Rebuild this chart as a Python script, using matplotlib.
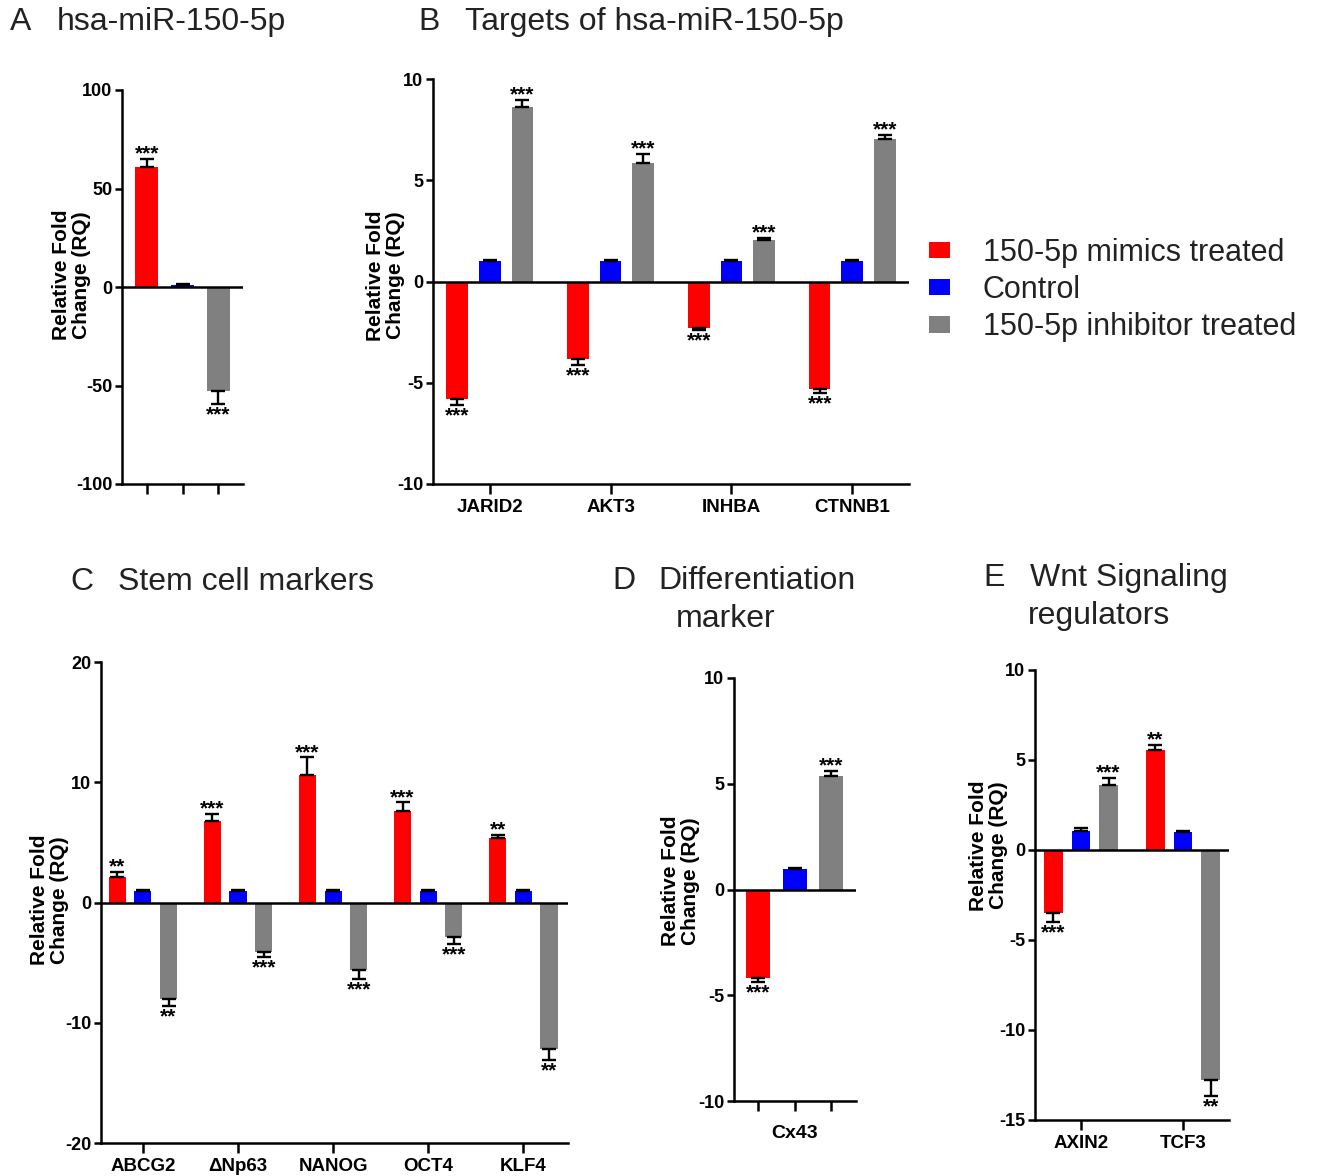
import numpy as np
import matplotlib
matplotlib.use("Agg")
import matplotlib.pyplot as plt
from matplotlib.patches import Patch

plt.rcParams['font.family'] = ['Liberation Sans', 'DejaVu Sans']
plt.rcParams['axes.unicode_minus'] = False

# ---------------- data ----------------
series_names = ['150-5p mimics treated', 'Control', '150-5p inhibitor treated']
series_colors = ['#FF0000', '#0000FF', '#808080']

# Panel A
A_cats = ['hsa-miR-150-5p']
A_mimic = [61.1]
A_ctrl = [1.0]
A_inhib = [-53.0]
A_mimic_err = [4.0]
A_ctrl_err = [0.4]
A_inhib_err = [6.4]
A_mimic_sig = ['***']
A_inhib_sig = ['***']

# Panel B
B_cats = ['JARID2', 'AKT3', 'INHBA', 'CTNNB1']
B_mimic = [-5.78, -3.84, -2.30, -5.32]
B_ctrl = [1.02, 1.02, 1.00, 1.00]
B_inhib = [8.62, 5.85, 2.07, 7.03]
B_mimic_err = [0.32, 0.26, 0.11, 0.21]
B_ctrl_err = [0.05, 0.06, 0.04, 0.05]
B_inhib_err = [0.35, 0.44, 0.07, 0.21]
B_mimic_sig = ['***', '***', '***', '***']
B_inhib_sig = ['***', '***', '***', '***']

# Panel C
C_cats = ['ABCG2', '\u0394Np63', 'NANOG', 'OCT4', 'KLF4']
C_mimic = [2.13, 6.76, 10.57, 7.59, 5.40]
C_ctrl = [0.97, 0.97, 0.97, 0.97, 0.97]
C_inhib = [-8.04, -4.12, -5.60, -2.84, -12.19]
C_mimic_err = [0.40, 0.60, 1.50, 0.73, 0.25]
C_ctrl_err = [0.08, 0.08, 0.08, 0.08, 0.08]
C_inhib_err = [0.56, 0.43, 0.73, 0.60, 0.91]
C_mimic_sig = ['**', '***', '***', '***', '**']
C_inhib_sig = ['**', '***', '***', '***', '**']

# Panel D
D_cats = ['Cx43']
D_mimic = [-4.17]
D_ctrl = [0.99]
D_inhib = [5.35]
D_mimic_err = [0.19]
D_ctrl_err = [0.05]
D_inhib_err = [0.25]
D_mimic_sig = ['***']
D_inhib_sig = ['***']

# Panel E
E_cats = ['AXIN2', 'TCF3']
E_mimic = [-3.48, 5.56]
E_ctrl = [1.04, 0.98]
E_inhib = [3.59, -12.80]
E_mimic_err = [0.50, 0.27]
E_ctrl_err = [0.16, 0.07]
E_inhib_err = [0.43, 0.87]
E_mimic_sig = ['***', '**']
E_inhib_sig = ['***', '**']

# ---------------- figure ----------------
W, H = 1318, 1176
fig = plt.figure(figsize=(W / 100, H / 100), dpi=100)


def ax_at(left, top, right, bottom):
    return fig.add_axes([left / W, 1 - bottom / H, (right - left) / W, (bottom - top) / H])


LW = 1.8
TXT = '#222222'


def draw_panel(ax, cats, vals, errs, sigs, grouped, ylim, yticks, xlim, xlabels, xlabel=None,
               ylabel_pos=(-0.3, 0.5)):
    n = len(cats)
    if grouped:
        base = np.arange(n)
        offsets = [-0.27, 0.0, 0.27]
        width = 0.18
    else:
        base = np.zeros(n)
        offsets = [0.0, 1.0, 2.0]
        width = 0.65
    tickpos = []
    for s in range(3):
        x = base + offsets[s]
        v = np.array(vals[s], dtype=float)
        e = np.array(errs[s], dtype=float)
        ax.bar(x, v, width=width, color=series_colors[s], edgecolor='none', zorder=2)
        lower = np.where(v < 0, e, 0)
        upper = np.where(v >= 0, e, 0)
        ax.errorbar(x, v, yerr=[lower, upper], fmt='none', ecolor='black', elinewidth=1.7,
                    capsize=5, capthick=1.7, zorder=3)
        if sigs[s] is not None:
            for xi, vi, ei, si in zip(x, v, e, sigs[s]):
                if not si:
                    continue
                if vi >= 0:
                    ax.annotate(si, (xi, vi + ei), xytext=(0, -0.5), textcoords='offset points',
                                ha='center', va='baseline', fontsize=15, fontweight='bold', zorder=4)
                else:
                    ax.annotate(si, (xi, vi - ei), xytext=(0, -1), textcoords='offset points',
                                ha='center', va='top', fontsize=15, fontweight='bold', zorder=4)
        if not grouped:
            tickpos.extend(list(x))
    ax.axhline(0, color='black', lw=LW, zorder=5)
    ax.set_ylim(*ylim)
    ax.set_xlim(*xlim)
    ax.set_yticks(yticks)
    ax.set_yticklabels([str(t) for t in yticks], fontsize=13, fontweight='bold')
    if grouped:
        ax.set_xticks(np.arange(n))
        ax.set_xticklabels(xlabels, fontsize=13.5, fontweight='bold')
    else:
        ax.set_xticks(sorted(tickpos))
        ax.set_xticklabels(['' for _ in tickpos])
        if xlabel:
            ax.set_xlabel(xlabel, fontsize=14, fontweight='bold', labelpad=6)
    for sp in ['top', 'right']:
        ax.spines[sp].set_visible(False)
    for sp in ['left', 'bottom']:
        ax.spines[sp].set_linewidth(LW)
    ax.tick_params(axis='y', direction='out', length=5, width=LW, pad=2)
    ax.tick_params(axis='x', direction='out', length=7, width=LW, pad=4)
    ax.set_facecolor('none')
    ax.set_ylabel('Relative Fold\nChange (RQ)', fontsize=15, fontweight='bold',
                  linespacing=1.05, multialignment='center', va='center')
    ax.yaxis.set_label_coords(*ylabel_pos)


# Panel A
axA = ax_at(122, 90, 243, 484)
draw_panel(axA, A_cats, [A_mimic, A_ctrl, A_inhib], [A_mimic_err, A_ctrl_err, A_inhib_err],
           [A_mimic_sig, None, A_inhib_sig], grouped=False, ylim=(-100, 100),
           yticks=[-100, -50, 0, 50, 100], xlim=(-0.70, 2.70), xlabels=None,
           ylabel_pos=(-0.42, 0.53))

# Panel B
axB = ax_at(433, 79, 909, 484)
draw_panel(axB, B_cats, [B_mimic, B_ctrl, B_inhib], [B_mimic_err, B_ctrl_err, B_inhib_err],
           [B_mimic_sig, None, B_inhib_sig], grouped=True, ylim=(-10, 10),
           yticks=[-10, -5, 0, 5, 10], xlim=(-0.47, 3.47), xlabels=B_cats,
           ylabel_pos=(-0.10, 0.515))

# Panel C
axC = ax_at(101, 662, 568, 1143)
draw_panel(axC, C_cats, [C_mimic, C_ctrl, C_inhib], [C_mimic_err, C_ctrl_err, C_inhib_err],
           [C_mimic_sig, None, C_inhib_sig], grouped=True, ylim=(-20, 20),
           yticks=[-20, -10, 0, 10, 20], xlim=(-0.44, 4.47), xlabels=C_cats,
           ylabel_pos=(-0.11, 0.505))

# Panel D
axD = ax_at(734, 678, 856, 1101)
draw_panel(axD, D_cats, [D_mimic, D_ctrl, D_inhib], [D_mimic_err, D_ctrl_err, D_inhib_err],
           [D_mimic_sig, None, D_inhib_sig], grouped=False, ylim=(-10, 10),
           yticks=[-10, -5, 0, 5, 10], xlim=(-0.66, 2.68), xlabels=None, xlabel=D_cats[0],
           ylabel_pos=(-0.44, 0.52))

# Panel E
axE = ax_at(1035, 670, 1229, 1120)
draw_panel(axE, E_cats, [E_mimic, E_ctrl, E_inhib], [E_mimic_err, E_ctrl_err, E_inhib_err],
           [E_mimic_sig, None, E_inhib_sig], grouped=True, ylim=(-15, 10),
           yticks=[-15, -10, -5, 0, 5, 10], xlim=(-0.45, 1.45), xlabels=E_cats,
           ylabel_pos=(-0.24, 0.61))

# ---------------- titles ----------------
def ftext(x, y, s, **kw):
    fig.text(x / W, 1 - y / H, s, ha='left', va='center', fontsize=23, color=TXT, **kw)


ftext(10, 22, 'A')
ftext(57, 22, 'hsa-miR-150-5p')
ftext(418, 22, 'B')
ftext(465, 22, 'Targets of hsa-miR-150-5p')
ftext(70, 582, 'C')
ftext(118, 582, 'Stem cell markers')
ftext(612, 581, 'D')
ftext(658, 581, 'Differentiation')
ftext(676, 619, 'marker')
ftext(983, 578, 'E')
ftext(1030, 578, 'Wnt Signaling')
ftext(1028, 616, 'regulators')

# ---------------- legend ----------------
handles = [Patch(facecolor=c, edgecolor='none') for c in series_colors]
fig.legend(handles, series_names, loc='center left', bbox_to_anchor=(929 / W, 1 - 290 / H),
           frameon=False, fontsize=22, handlelength=0.68, handleheight=0.45,
           handletextpad=1.08, labelspacing=0.24, borderpad=0, borderaxespad=0,
           labelcolor=TXT)

fig.savefig('out.png', dpi=100)
